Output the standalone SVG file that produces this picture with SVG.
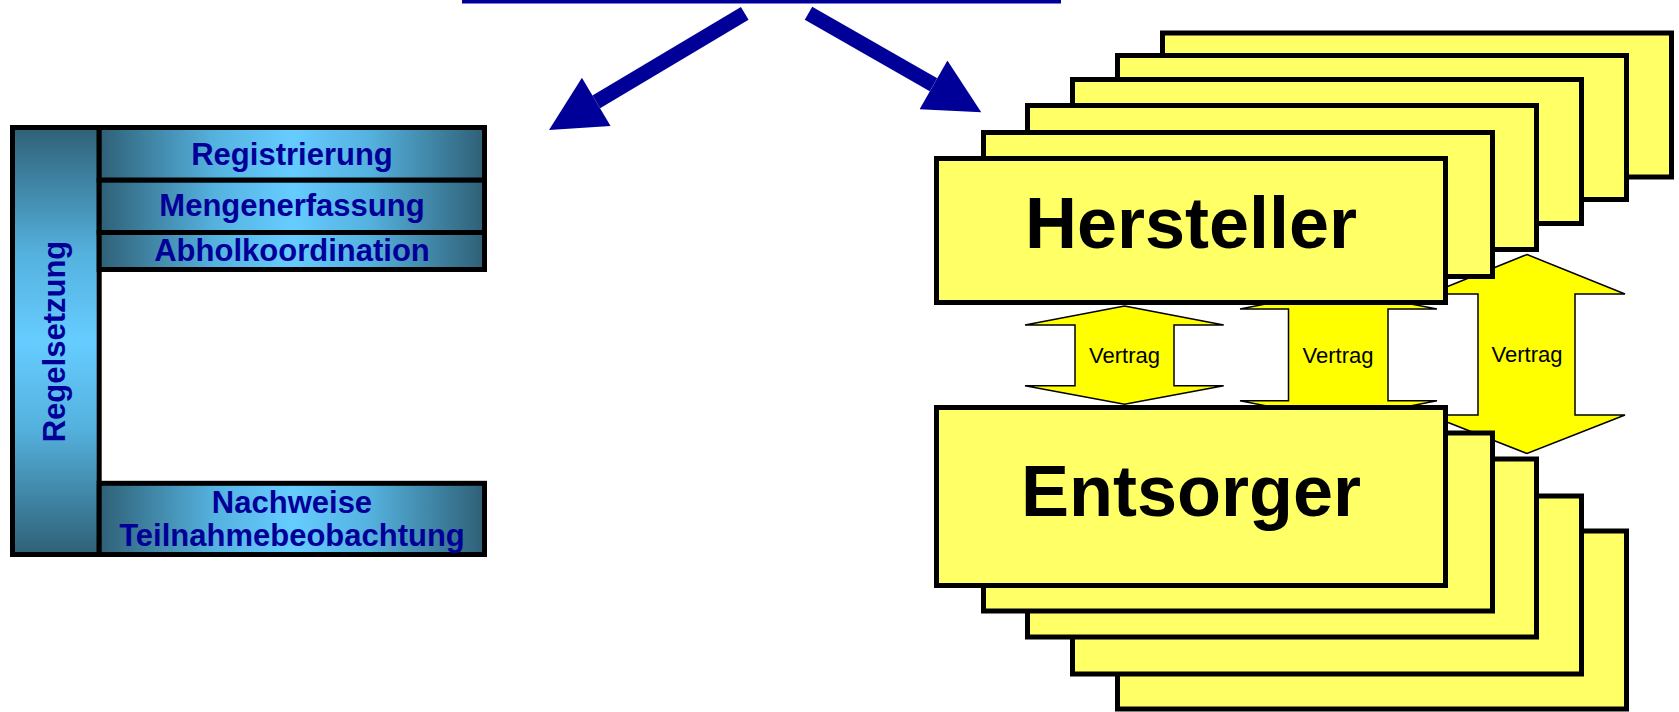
<svg xmlns="http://www.w3.org/2000/svg" width="1679" height="712" viewBox="0 0 1679 712">
<style>
.cell{stroke:#000;stroke-width:5}
.lt{font-family:"Liberation Sans",Arial,sans-serif;font-weight:bold;font-size:31px;fill:#000099;text-anchor:middle}
.box{fill:#FFFF66;stroke:#000;stroke-width:5}
.big{font-family:"Liberation Sans",Arial,sans-serif;font-weight:bold;font-size:72px;fill:#000;text-anchor:middle}
.va{fill:#FFFF00;stroke:#000;stroke-width:1.5;stroke-linejoin:miter}
.vt{font-family:"Liberation Sans",Arial,sans-serif;font-size:22px;fill:#000;text-anchor:middle}
.conn{stroke:#000099;stroke-width:15;fill:none}
</style>
<defs>
<linearGradient id="hg" x1="0" y1="0" x2="1" y2="0">
<stop offset="0" stop-color="#2f6076"/>
<stop offset="0.3" stop-color="#55b2df"/>
<stop offset="0.5" stop-color="#66ccff"/>
<stop offset="0.7" stop-color="#55b2df"/>
<stop offset="1" stop-color="#2f6076"/>
</linearGradient>
<linearGradient id="vg" x1="0" y1="0" x2="0" y2="1">
<stop offset="0" stop-color="#2f6076"/>
<stop offset="0.3" stop-color="#55b2df"/>
<stop offset="0.5" stop-color="#66ccff"/>
<stop offset="0.7" stop-color="#55b2df"/>
<stop offset="1" stop-color="#2f6076"/>
</linearGradient>
<marker id="ah" markerUnits="userSpaceOnUse" markerWidth="56" markerHeight="56" viewBox="0 0 55 56" refX="0" refY="28" orient="auto">
<path d="M0,0 L55,28 L0,56 z" fill="#000099"/>
</marker>
</defs>
<rect width="1679" height="712" fill="#fff"/>

<g id="top-bar"><rect x="462" y="0" width="599" height="3.5" fill="#000099"/></g>

<g id="connectors">
<line class="conn" x1="744.75" y1="13.35" x2="596.25" y2="101.85" marker-end="url(#ah)"/>
<line class="conn" x1="808.5" y1="13.35" x2="933.5" y2="84.85" marker-end="url(#ah)"/>
</g>

<g id="regelsetzung">
<rect class="cell" x="12.5" y="127.5" width="86.7" height="427" fill="url(#vg)"/>
<text class="lt" transform="translate(64.5,341.5) rotate(-90)">Regelsetzung</text>
</g>
<g id="registrierung">
<rect class="cell" x="99.2" y="127.5" width="385.3" height="52.7" fill="url(#hg)"/>
<text class="lt" x="292" y="165">Registrierung</text>
</g>
<g id="mengenerfassung">
<rect class="cell" x="99.2" y="180.2" width="385.3" height="52.3" fill="url(#hg)"/>
<text class="lt" x="292" y="216">Mengenerfassung</text>
</g>
<g id="abholkoordination">
<rect class="cell" x="99.2" y="232.5" width="385.3" height="37" fill="url(#hg)"/>
<text class="lt" x="292" y="261">Abholkoordination</text>
</g>
<g id="nachweise">
<rect class="cell" x="99.2" y="483.3" width="385.3" height="71.2" fill="url(#hg)"/>
<text class="lt" x="292" y="512.7">Nachweise</text>
<text class="lt" x="292" y="546">Teilnahmebeobachtung</text>
</g>

<g id="vertrag-3">
<polygon class="va" points="1527,254.5 1625,294 1575,294 1575,415 1625,415 1527,453.5 1429,415 1478,415 1478,294 1429,294"/>
<text class="vt" x="1527" y="362">Vertrag</text>
</g>
<g id="vertrag-2">
<polygon class="va" points="1338.5,290 1437,309 1388,309 1388,400.7 1437,400.7 1338.5,420 1240,400.7 1288.5,400.7 1288.5,309 1240,309"/>
<text class="vt" x="1338" y="363">Vertrag</text>
</g>
<g id="vertrag-1">
<polygon class="va" points="1124.5,306 1223.7,325 1174,325 1174,385.7 1223.7,385.7 1124.5,404.3 1025,385.7 1075,385.7 1075,325 1025,325"/>
<text class="vt" x="1124.5" y="363">Vertrag</text>
</g>

<g id="hersteller">
<rect class="box" x="1162.5" y="33" width="509" height="144"/>
<rect class="box" x="1117.5" y="55.5" width="509" height="144"/>
<rect class="box" x="1072.5" y="79.5" width="509" height="144"/>
<rect class="box" x="1027.5" y="105.5" width="509" height="144"/>
<rect class="box" x="983.5" y="132.5" width="509" height="144"/>
<rect class="box" x="936.5" y="158.5" width="509" height="144"/>
<text class="big" x="1191" y="248">Hersteller</text>
</g>

<g id="entsorger">
<rect class="box" x="1117.5" y="531" width="509" height="178"/>
<rect class="box" x="1072.5" y="496" width="509" height="178"/>
<rect class="box" x="1027.5" y="459" width="509" height="178"/>
<rect class="box" x="983.5" y="433" width="509" height="178"/>
<rect class="box" x="936.5" y="407.5" width="509" height="178"/>
<text class="big" x="1191" y="516">Entsorger</text>
</g>
</svg>
